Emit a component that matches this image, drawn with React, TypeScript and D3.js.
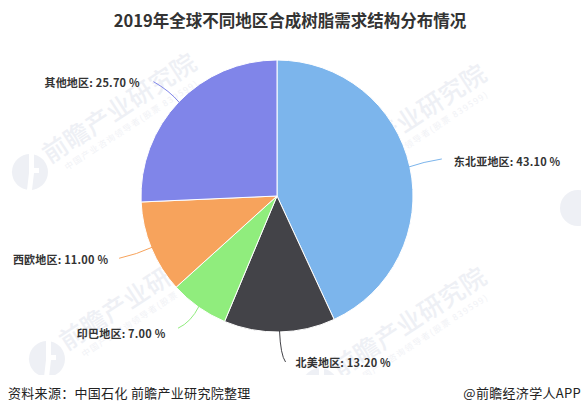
import React from "react";
import * as d3 from "d3";

const W = 581, H = 414;
const FONT = "'Noto Sans CJK SC', 'Noto Sans', sans-serif";
const title = "2019年全球不同地区合成树脂需求结构分布情况";
const source = "资料来源：中国石化 前瞻产业研究院整理";
const credit = "@前瞻经济学人APP";
const regions = ["东北亚地区", "北美地区", "印巴地区", "西欧地区", "其他地区"];
const shares = [43.1, 13.2, 7.0, 11.0, 25.7];
const colors = ["#7cb5ec", "#434348", "#90ed7d", "#f7a35c", "#8085e9"];

// layout of labels relative to each slice's outer midpoint: control, end, text
const lineCtrl = [[14, -5], [1, 24], [-8, 16], [-15, 7], [-10, -12]];
const lineEnd = [[33, -8], [6, 31], [-21, 22], [-33, 11], [-26, -21]];
const textAt = [[44, -4], [16, 32], [-33, 28], [-43, 13], [-39, -18]];
const textAnchor = ["start", "start", "end", "end", "end"];

const marks = [
  { x: 30, y: 172 },
  { x: 320, y: 183 },
  { x: 47, y: 359 },
  { x: 320, y: 386 },
];

function Watermark({ x, y }: { x: number; y: number }) {
  return (
    <g transform={`translate(${x},${y}) rotate(-33)`} fill="#eef0f5">
      <circle r="18" />
      <path d="M-1 -18 L4 -18 L4 -4 L9 -4 L9 1 L4 1 L2 18 L-3 18 L-1 1 Z" fill="#fff" transform="rotate(33)" />
      <text x="21" y="4" fontFamily={FONT} fontSize="25" fontWeight="500" letterSpacing="0.4">前瞻产业研究院</text>
      <text x="32" y="19" fontFamily={FONT} fontSize="8.5" letterSpacing="1.4" fill="#f1f2f6">中国产业咨询领导者(股票 839599)</text>
    </g>
  );
}

export default function App() {
  const cx = 277, cy = 196, r = 136;
  const pie = d3.pie<number>().sort(null).startAngle(0).endAngle(2 * Math.PI);
  const arcs = pie(shares);
  const arc = d3.arc<d3.PieArcDatum<number>>().innerRadius(0).outerRadius(r);
  return (
    <svg width={W} height={H} viewBox={`0 0 ${W} ${H}`} style={{ position: "absolute", left: 0, top: 0, background: "#fff" }}>
      <g>
        {marks.map((m, i) => <Watermark key={i} x={m.x} y={m.y} />)}
        <circle cx="578" cy="208" r="18" fill="#eef0f5" />
        <rect x="0" y="375" width={W} height={H - 375} fill="#fff" />
      </g>
      <text x="290" y="26.5" textAnchor="middle" fontFamily={FONT} fontSize="16.5" fontWeight="700" fill="#333">{title}</text>
      <g transform={`translate(${cx},${cy})`}>
        {arcs.map((a, i) => (
          <path key={i} d={arc(a) ?? ""} fill={colors[i]} stroke="#fff" strokeWidth="1" />
        ))}
        {arcs.map((a, i) => {
          const mid = (a.startAngle + a.endAngle) / 2;
          const sx = Math.sin(mid) * (r - 1), sy = -Math.cos(mid) * (r - 1);
          const p = d3.path();
          p.moveTo(sx, sy);
          p.quadraticCurveTo(sx + lineCtrl[i][0], sy + lineCtrl[i][1], sx + lineEnd[i][0], sy + lineEnd[i][1]);
          return <path key={i} d={p.toString()} fill="none" stroke={colors[i]} strokeWidth="1" />;
        })}
        {arcs.map((a, i) => {
          const mid = (a.startAngle + a.endAngle) / 2;
          const sx = Math.sin(mid) * r, sy = -Math.cos(mid) * r;
          return (
            <text key={i} x={sx + textAt[i][0]} y={sy + textAt[i][1]} textAnchor={textAnchor[i] as "start" | "end"}
              dominantBaseline="middle" fontFamily={FONT} fontSize="11" fontWeight="700" letterSpacing="0.2" fill="#333">
              {`${regions[i]}: ${shares[i].toFixed(2)} %`}
            </text>
          );
        })}
      </g>
      <text x="8" y="398" fontFamily={FONT} fontSize="13" letterSpacing="0.3" fill="#222">{source}</text>
      <text x="581" y="398" textAnchor="end" fontFamily={FONT} fontSize="13" letterSpacing="0.3" fill="#222">{credit}</text>
    </svg>
  );
}
